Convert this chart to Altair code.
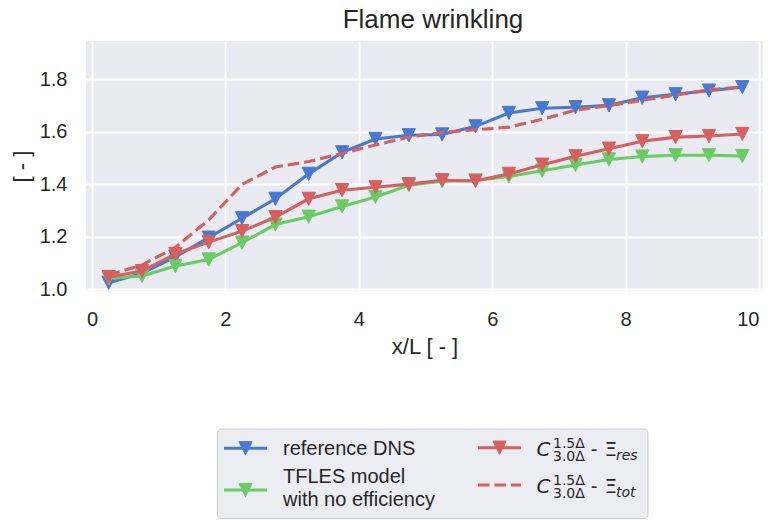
import altair as alt
import pandas as pd

# ---- data ----
x_pos = [0.25, 0.75, 1.25, 1.75, 2.25, 2.75, 3.25, 3.75, 4.25, 4.75,
         5.25, 5.75, 6.25, 6.75, 7.25, 7.75, 8.25, 8.75, 9.25, 9.75]
dns = [1.025, 1.061, 1.124, 1.197, 1.271, 1.345, 1.440, 1.522, 1.573, 1.587,
       1.590, 1.621, 1.672, 1.690, 1.694, 1.701, 1.730, 1.743, 1.757, 1.770]
tfles = [1.042, 1.051, 1.089, 1.114, 1.178, 1.247, 1.277, 1.316, 1.352, 1.397,
         1.412, 1.415, 1.430, 1.452, 1.474, 1.495, 1.506, 1.511, 1.511, 1.508]
c_res = [1.047, 1.070, 1.135, 1.180, 1.222, 1.275, 1.345, 1.378, 1.389, 1.401,
         1.416, 1.413, 1.440, 1.475, 1.507, 1.536, 1.564, 1.580, 1.584, 1.592]
c_tot = [1.055, 1.093, 1.160, 1.265, 1.400, 1.466, 1.487, 1.518, 1.550, 1.580,
         1.598, 1.608, 1.618, 1.648, 1.683, 1.700, 1.720, 1.740, 1.760, 1.772]

x_ticks = [0, 2, 4, 6, 8, 10]
y_ticks = [1.0, 1.2, 1.4, 1.6, 1.8]

BLUE, GREEN, RED = "#4878D0", "#6ACC64", "#D65F5F"
TXT = "#262626"
SANS = "Liberation Sans"
MATH = "DejaVu Sans"
TRI = "M0,1L-1,-1L1,-1Z"  # downward triangle marker
MSIZE = 175
LW = 3.1
DASH = [11.5, 5]


def frame(vals, name):
    return pd.DataFrame({"x": x_pos, "y": vals, "series": name})


X = alt.X("x:Q",
          scale=alt.Scale(domain=[-0.09, 10.06], nice=False, zero=False),
          axis=alt.Axis(values=x_ticks, format="d", title="x/L [ - ]",
                        titleFont=SANS, titleFontSize=22, titleFontWeight="normal",
                        titleColor=TXT, titleY=62, titleBaseline="alphabetic",
                        labelFont=SANS, labelFontSize=20, labelColor=TXT,
                        labelPadding=18, labelFlush=5, labelOverlap=False,
                        ticks=False, tickSize=0, domain=False,
                        grid=True, gridColor="white", gridWidth=2))
Y = alt.Y("y:Q",
          scale=alt.Scale(domain=[0.994, 1.946], nice=False, zero=False),
          axis=alt.Axis(values=y_ticks, format=".1f", title="[ - ]",
                        titleFont=SANS, titleFontSize=22, titleFontWeight="normal",
                        titleColor=TXT, titleX=-65, titleY=125, titleAngle=270,
                        titleAlign="center", titleBaseline="middle",
                        labelFont=SANS, labelFontSize=20, labelColor=TXT,
                        labelPadding=19, labelFlush=False, labelOverlap=False,
                        ticks=False, tickSize=0, domain=False,
                        grid=True, gridColor="white", gridWidth=2))


def series_layers(vals, name, color, markers=True, dash=None):
    base = alt.Chart(frame(vals, name))
    line_kw = dict(color=color, strokeWidth=LW, strokeCap="butt")
    if dash:
        line_kw["strokeDash"] = dash
    layers = [base.mark_line(**line_kw).encode(x=X, y=Y)]
    if markers:
        layers.append(base.mark_point(shape=TRI, filled=True, size=MSIZE,
                                      color=color, stroke=color, strokeWidth=1,
                                      opacity=1).encode(x=X, y=Y))
    return layers


data_layers = (series_layers(dns, "reference DNS", BLUE)
               + series_layers(tfles, "TFLES model with no efficiency", GREEN)
               + series_layers(c_res, "C res", RED)
               + series_layers(c_tot, "C tot", RED, markers=False, dash=DASH))

# ---- decorations: title and hand-built legend ----
one = pd.DataFrame({"k": [0]})
deco = alt.Chart(one)


def text(t, x, y, size=20, font=SANS, style="normal", align="left"):
    return deco.mark_text(font=font, fontSize=size, fontStyle=style, color=TXT,
                          align=align, baseline="alphabetic").encode(
        x=alt.value(x), y=alt.value(y), text=alt.value(t))


def handle(x1, x2, y, color, marker=True, dash=None):
    kw = dict(color=color, strokeWidth=LW, strokeCap="butt")
    if dash:
        kw["strokeDash"] = dash
    out = [deco.mark_rule(**kw).encode(x=alt.value(x1), x2=alt.value(x2), y=alt.value(y))]
    if marker:
        out.append(deco.mark_point(shape=TRI, filled=True, size=MSIZE, color=color,
                                   stroke=color, strokeWidth=1, opacity=1).encode(
            x=alt.value((x1 + x2) / 2), y=alt.value(y)))
    return out


title = text("Flame wrinkling", 347, -13.5, size=26, align="center")

legend_box = deco.mark_rect(fill="#ECECF3", stroke="#CCCCCC", strokeWidth=1,
                            cornerRadius=4).encode(
    x=alt.value(131.5), x2=alt.value(562), y=alt.value(388), y2=alt.value(477.5))


def math_label(y0, sub):
    return [
        text("C", 450.5, y0, size=20, font=MATH, style="italic"),
        text("1.5\u0394", 467, y0 - 8, size=14, font=MATH),
        text("3.0\u0394", 467, y0 + 4.5, size=14, font=MATH),
        text("-", 508, y0, size=20, align="center"),
        text("\u039e", 518.5, y0, size=20, font=MATH),
        text(sub, 530, y0 + 3.5, size=14, font=MATH, style="italic"),
    ]


legend_layers = ([legend_box]
                 + handle(138, 181, 407.3, BLUE)
                 + [text("reference DNS", 197, 413.5)]
                 + handle(138, 181, 449, GREEN)
                 + [text("TFLES model", 197, 442), text("with no efficiency", 197, 465)]
                 + handle(392, 435, 406.7, RED)
                 + math_label(415, "res")
                 + handle(392, 435, 444, RED, marker=False, dash=DASH)
                 + math_label(452, "tot"))

chart = alt.layer(*data_layers, title, *legend_layers).properties(
    width=677, height=250,
    autosize=alt.AutoSizeParams(type="none"),
    padding={"left": 78, "top": 33, "right": 0, "bottom": 228},
    background="white",
).configure_view(fill="#EAEAF2", strokeWidth=0)

chart.save("out.html", embed_options={"renderer": "svg", "actions": False})
